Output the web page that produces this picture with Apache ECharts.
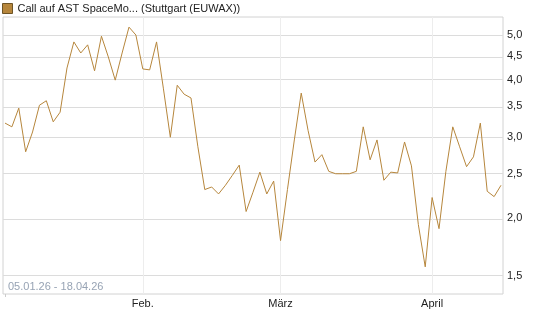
<!DOCTYPE html>
<html>
<head>
<meta charset="utf-8">
<script src="https://cdn.jsdelivr.net/npm/echarts@6/dist/echarts.min.js"></script>
<style>
  html, body { margin: 0; padding: 0; background: #fff; }
  #chart { width: 545px; height: 327px; }
</style>
</head>
<body>
<div id="chart"></div>
<script>
(function () {
  'use strict';

  const seriesName = 'Call auf AST SpaceMo... (Stuttgart (EUWAX))';
  const rangeText = '05.01.26 - 18.04.26';

  // trading days (Stuttgart), one point each
  const dates = [
    '05.01.26', '06.01.26', '07.01.26', '08.01.26', '09.01.26', '12.01.26', '13.01.26', '14.01.26', '15.01.26', '16.01.26',
    '19.01.26', '20.01.26', '21.01.26', '22.01.26', '23.01.26', '26.01.26', '27.01.26', '28.01.26', '29.01.26', '30.01.26',
    '02.02.26', '03.02.26', '04.02.26', '05.02.26', '06.02.26', '09.02.26', '10.02.26', '11.02.26', '12.02.26', '13.02.26',
    '16.02.26', '17.02.26', '18.02.26', '19.02.26', '20.02.26', '23.02.26', '24.02.26', '25.02.26', '26.02.26', '27.02.26',
    '02.03.26', '03.03.26', '04.03.26', '05.03.26', '06.03.26', '09.03.26', '10.03.26', '11.03.26', '12.03.26', '13.03.26',
    '16.03.26', '17.03.26', '18.03.26', '19.03.26', '20.03.26', '23.03.26', '24.03.26', '25.03.26', '26.03.26', '27.03.26',
    '30.03.26', '31.03.26',
    '01.04.26', '02.04.26', '07.04.26', '08.04.26', '09.04.26', '10.04.26', '13.04.26', '14.04.26', '15.04.26', '16.04.26',
    '17.04.26'
  ];

  const prices = [
    3.22, 3.16, 3.47, 2.79, 3.08, 3.52, 3.60, 3.24, 3.40, 4.24,
    4.83, 4.57, 4.76, 4.18, 4.97, 4.48, 3.99, 4.57, 5.20, 5.00,
    4.22, 4.20, 4.83, 3.82, 3.00, 3.89, 3.72, 3.65, 2.86, 2.31,
    2.34, 2.26, 2.36, 2.48, 2.61, 2.07, 2.28, 2.52, 2.26, 2.41,
    1.79, 2.31, 2.96, 3.74, 3.10, 2.65, 2.75, 2.53, 2.50, 2.50,
    2.50, 2.53, 3.16, 2.68, 2.96, 2.42, 2.52, 2.51, 2.93, 2.60,
    1.94, 1.57,
    2.22, 1.90, 2.53, 3.16, 2.86, 2.59, 2.72, 3.22, 2.29, 2.23,
    2.36
  ];

  const yTicks = [1.5, 2.0, 2.5, 3.0, 3.5, 4.0, 4.5, 5.0];
  const monthStarts = ['02.02.26', '02.03.26', '01.04.26'];
  const monthLabels = ['Feb.', 'März', 'April'];

  const lineColor = '#b6863c';
  const font = "'Liberation Sans', Arial, sans-serif";

  // y axis is logarithmic: plot ln(price) on a value axis
  const monthIdx = monthStarts.map(d => dates.indexOf(d));
  const data = prices.map((p, i) => [i, Math.log(p)]);

  const chart = echarts.init(document.getElementById('chart'));

  chart.setOption({
    animation: false,
    textStyle: { fontFamily: font },
    legend: {
      data: [{ name: seriesName, icon: 'rect', itemStyle: { color: lineColor, borderColor: '#6e5426', borderWidth: 1 } }],
      left: 2,
      top: 3,
      padding: 0,
      itemWidth: 10,
      itemHeight: 10,
      selectedMode: false,
      textStyle: { fontSize: 11, color: '#222', fontFamily: font }
    },
    grid: {
      left: 3, right: 42, top: 17, bottom: 33,
      show: true, borderColor: '#d2d2d2', borderWidth: 1
    },
    graphic: [{
      type: 'text',
      left: 8,
      top: 281,
      style: { text: rangeText, fill: '#97a3b4', font: '11px ' + font }
    }],
    xAxis: {
      type: 'value',
      min: -0.29,
      max: dates.length - 1 + 0.29,
      axisLine: { show: false },
      splitLine: { show: false },
      axisTick: { show: true, customValues: [0], length: 3, lineStyle: { color: '#cccccc' } },
      axisLabel: {
        customValues: monthIdx,
        margin: 4,
        fontSize: 11,
        color: '#222',
        formatter: v => monthLabels[monthIdx.indexOf(Math.round(v))] || ''
      }
    },
    yAxis: {
      type: 'value',
      position: 'right',
      min: Math.log(1.371),
      max: Math.log(5.47),
      axisLine: { show: false },
      axisTick: { show: false },
      splitLine: { show: false },
      axisLabel: {
        customValues: yTicks.map(t => Math.log(t)),
        margin: 4,
        fontSize: 11,
        color: '#222',
        formatter: v => Math.exp(v).toFixed(1).replace('.', ',')
      }
    },
    series: [
      {
        name: 'grid',
        type: 'line',
        data: [],
        silent: true,
        markLine: {
          silent: true,
          z: 1,
          symbol: 'none',
          label: { show: false },
          data: yTicks.map(t => ({ yAxis: Math.log(t), lineStyle: { color: '#dcdcdc', width: 1, type: 'solid' } }))
            .concat(monthIdx.map(i => ({ xAxis: i, lineStyle: { color: '#ededed', width: 1, type: 'solid' } })))
        }
      },
      {
        name: seriesName,
        type: 'line',
        z: 3,
        data: data,
        showSymbol: false,
        symbol: 'none',
        lineStyle: { color: lineColor, width: 1 },
        itemStyle: { color: lineColor }
      }
    ]
  });

  window.addEventListener('resize', () => chart.resize());
})();
</script>
</body>
</html>
